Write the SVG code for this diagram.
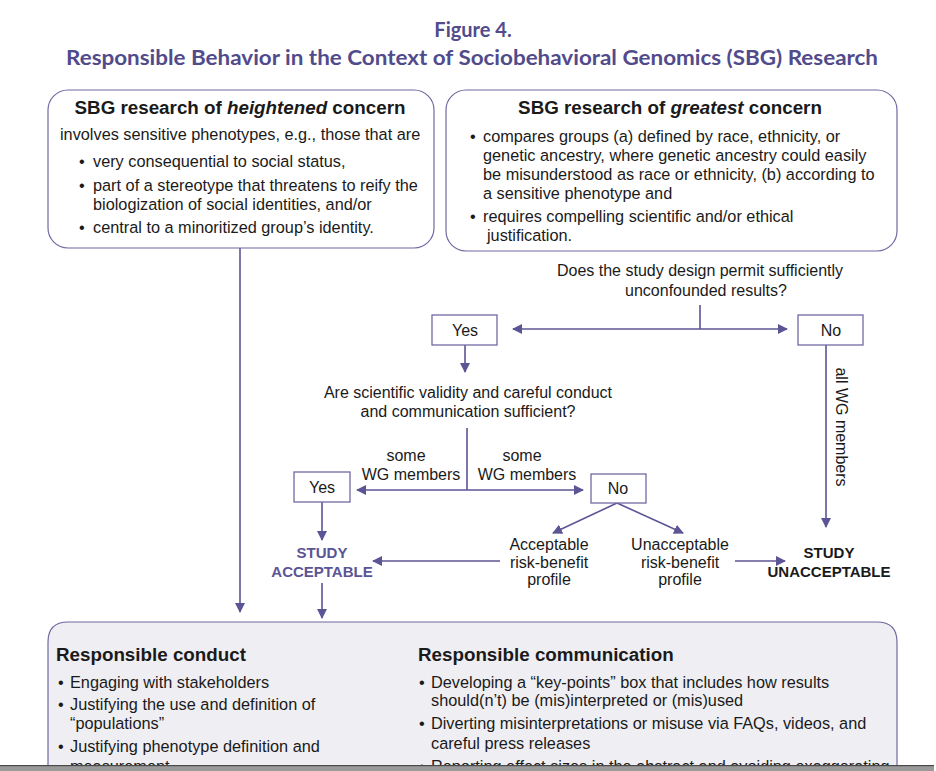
<svg xmlns="http://www.w3.org/2000/svg" width="936" height="771" viewBox="0 0 936 771">
<defs>
<style>
.t{font-family:"Liberation Sans",Arial,sans-serif;font-size:16.3px;fill:#1a1a1a}
.f{font-family:"Liberation Sans",Arial,sans-serif;font-size:16px;fill:#1a1a1a}
.h{font-family:"Liberation Sans",Arial,sans-serif;font-size:18.8px;font-weight:bold;fill:#1a1a1a}
.b{font-family:"Liberation Sans",Arial,sans-serif;font-size:15px;font-weight:bold}
.ttl{font-family:Lato,"Open Sans",sans-serif;font-size:20px;font-weight:bold;fill:#514b8c}
.box{fill:#fff;stroke:#6f69a3;stroke-width:1.2}
.sb{fill:#fff;stroke:#6f69a3;stroke-width:1.3}
.ln{stroke:#5b5595;stroke-width:1.6;fill:none}
</style>
<marker id="ah" viewBox="0 0 10 10" refX="9" refY="5" markerWidth="10" markerHeight="10" markerUnits="userSpaceOnUse" orient="auto-start-reverse">
<path d="M0,0 L10,5 L0,10 z" fill="#5b5595"/>
</marker>
</defs>

<g id="title">
<text class="ttl" x="473" y="37" text-anchor="middle">Figure 4.</text>
<text class="ttl" x="472" y="65" text-anchor="middle" textLength="812" lengthAdjust="spacingAndGlyphs">Responsible Behavior in the Context of Sociobehavioral Genomics (SBG) Research</text>
</g>

<g id="connectors">
<path class="ln" d="M240,248 V612" marker-end="url(#ah)"/>
<path class="ln" d="M700,305 V329"/>
<path class="ln" d="M513,329 H787" marker-start="url(#ah)" marker-end="url(#ah)"/>
<path class="ln" d="M465,345 V372" marker-end="url(#ah)"/>
<path class="ln" d="M826,345 V527" marker-end="url(#ah)"/>
<path class="ln" d="M467,428 V490"/>
<path class="ln" d="M357,490 H583" marker-start="url(#ah)" marker-end="url(#ah)"/>
<path class="ln" d="M322,502 V540" marker-end="url(#ah)"/>
<path class="ln" d="M617,503 L553,533" marker-end="url(#ah)"/>
<path class="ln" d="M617,503 L683,533" marker-end="url(#ah)"/>
<path class="ln" d="M500,561 H373" marker-end="url(#ah)"/>
<path class="ln" d="M735,561 H785" marker-end="url(#ah)"/>
<path class="ln" d="M322,583 V618" marker-end="url(#ah)"/>
<text class="f" x="406" y="461" text-anchor="middle">some</text>
<text class="f" x="411" y="480" text-anchor="middle">WG members</text>
<text class="f" x="522" y="461" text-anchor="middle">some</text>
<text class="f" x="527" y="480" text-anchor="middle">WG members</text>
<text class="f" transform="translate(836,427) rotate(90)" text-anchor="middle">all WG members</text>
</g>

<g id="heightened">
<rect class="box" x="48" y="90" width="386" height="158" rx="20"/>
<text class="h" x="240" y="114" text-anchor="middle">SBG research of <tspan font-style="italic">heightened</tspan> concern</text>
<text class="t" x="60" y="140">involves sensitive phenotypes, e.g., those that are</text>
<text class="t" x="79" y="167">•</text><text class="t" x="93" y="167">very consequential to social status,</text>
<text class="t" x="79" y="191">•</text><text class="t" x="93" y="191">part of a stereotype that threatens to reify the</text>
<text class="t" x="93" y="210">biologization of social identities, and/or</text>
<text class="t" x="79" y="233">•</text><text class="t" x="93" y="233">central to a minoritized group’s identity.</text>
</g>

<g id="greatest">
<rect class="box" x="446" y="90" width="451" height="161" rx="20"/>
<text class="h" x="670" y="114" text-anchor="middle">SBG research of <tspan font-style="italic">greatest</tspan> concern</text>
<text class="t" x="470" y="142">•</text><text class="t" x="483" y="142">compares groups (a) defined by race, ethnicity, or</text>
<text class="t" x="483" y="161">genetic ancestry, where genetic ancestry could easily</text>
<text class="t" x="483" y="180">be misunderstood as race or ethnicity, (b) according to</text>
<text class="t" x="483" y="199">a sensitive phenotype and</text>
<text class="t" x="470" y="222">•</text><text class="t" x="483" y="222">requires compelling scientific and/or ethical</text>
<text class="t" x="487" y="241">justification.</text>
</g>

<g id="q1">
<text class="f" x="700" y="276" text-anchor="middle">Does the study design permit sufficiently</text>
<text class="f" x="706" y="296" text-anchor="middle">unconfounded results?</text>
</g>

<g id="yes1">
<rect class="sb" x="432" y="315" width="65" height="30"/>
<text class="f" x="465" y="336" text-anchor="middle">Yes</text>
</g>

<g id="no1">
<rect class="sb" x="798" y="315" width="65" height="30"/>
<text class="f" x="831" y="336" text-anchor="middle">No</text>
</g>

<g id="q2">
<text class="f" x="468" y="398" text-anchor="middle">Are scientific validity and careful conduct</text>
<text class="f" x="468" y="417" text-anchor="middle">and communication sufficient?</text>
</g>

<g id="yes2">
<rect class="sb" x="294" y="472" width="56" height="30"/>
<text class="f" x="322" y="493" text-anchor="middle">Yes</text>
</g>

<g id="no2">
<rect class="sb" x="591" y="474" width="55" height="29"/>
<text class="f" x="618" y="494" text-anchor="middle">No</text>
</g>

<g id="acceptable-rb">
<text class="f" x="549" y="550" text-anchor="middle">Acceptable</text>
<text class="f" x="549" y="568" text-anchor="middle">risk-benefit</text>
<text class="f" x="549" y="585" text-anchor="middle">profile</text>
</g>

<g id="unacceptable-rb">
<text class="f" x="680" y="550" text-anchor="middle">Unacceptable</text>
<text class="f" x="680" y="568" text-anchor="middle">risk-benefit</text>
<text class="f" x="680" y="585" text-anchor="middle">profile</text>
</g>

<g id="study-acceptable">
<text class="b" x="322" y="558" text-anchor="middle" fill="#5b5595">STUDY</text>
<text class="b" x="322" y="577" text-anchor="middle" fill="#5b5595">ACCEPTABLE</text>
</g>

<g id="study-unacceptable">
<text class="b" x="829" y="558" text-anchor="middle" fill="#1a1a1a">STUDY</text>
<text class="b" x="829" y="577" text-anchor="middle" fill="#1a1a1a">UNACCEPTABLE</text>
</g>

<g id="responsible">
<path d="M48,790 V642 Q48,622 68,622 H877 Q897,622 897,642 V790" fill="#efeef3" stroke="#6f69a3" stroke-width="1.2"/>
<text class="h" x="56" y="661">Responsible conduct</text>
<text class="t" x="58" y="688">•</text><text class="t" x="70" y="688">Engaging with stakeholders</text>
<text class="t" x="58" y="710">•</text><text class="t" x="70" y="710">Justifying the use and definition of</text>
<text class="t" x="70" y="729">“populations”</text>
<text class="t" x="58" y="752">•</text><text class="t" x="70" y="752">Justifying phenotype definition and</text>
<text class="t" x="70" y="772">measurement</text>
<text class="h" x="418" y="661">Responsible communication</text>
<text class="t" x="419" y="688">•</text><text class="t" x="431" y="688">Developing a “key-points” box that includes how results</text>
<text class="t" x="431" y="706">should(n’t) be (mis)interpreted or (mis)used</text>
<text class="t" x="419" y="729">•</text><text class="t" x="431" y="729">Diverting misinterpretations or misuse via FAQs, videos, and</text>
<text class="t" x="431" y="749">careful press releases</text>
<text class="t" x="419" y="772">•</text><text class="t" x="431" y="772">Reporting effect sizes in the abstract and avoiding exaggerating</text>
</g>

<g id="bottom-bar">
<rect x="0" y="766" width="934" height="5" fill="#9a9a9a"/>
<rect x="0" y="765" width="934" height="1.2" fill="#4a4a4a"/>
</g>
</svg>
